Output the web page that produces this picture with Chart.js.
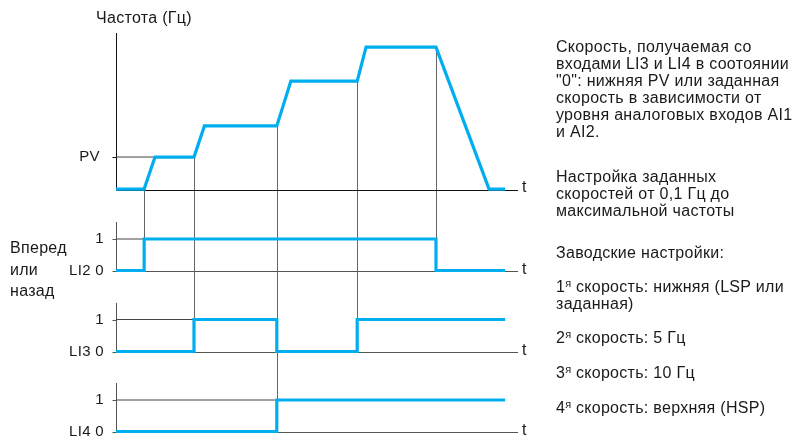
<!DOCTYPE html>
<html>
<head>
<meta charset="utf-8">
<script src="https://cdn.jsdelivr.net/npm/chart.js@4/dist/chart.umd.min.js"></script>
<style>
  html, body { margin: 0; padding: 0; background: #fff; }
  #wrap { position: relative; width: 797px; height: 440px; overflow: hidden;
    font-family: "Liberation Sans", Arial, sans-serif; color: #1a1a1a;
    font-size: 16px; letter-spacing: 0.3px; }
  #chart { position: absolute; left: 0; top: 0; }
  .lbl { position: absolute; white-space: nowrap; line-height: 17px; }
  .t { font-size: 16px; letter-spacing: 0; }
  sup { font-size: 11px; vertical-align: 5px; line-height: 0; letter-spacing: 0; }
</style>
</head>
<body>
<div id="wrap">
  <canvas id="chart" width="797" height="440"></canvas>
  <div class="lbl" style="left:96px; top:9px;">Частота (Гц)</div>
  <div class="lbl" style="left:10px; top:237px; line-height:21.5px;">Вперед<br>или<br>назад</div>
  <div class="lbl t" style="left:522px; top:178px;">t</div>
  <div class="lbl t" style="left:522px; top:260px;">t</div>
  <div class="lbl t" style="left:522px; top:341px;">t</div>
  <div class="lbl t" style="left:522px; top:421px;">t</div>
  <div class="lbl" style="left:556px; top:38px;">Скорость, получаемая со<br>входами LI3 и LI4 в соотоянии<br>"0": нижняя PV или заданная<br>скорость в зависимости от<br>уровня аналоговых входов AI1<br>и AI2.</div>
  <div class="lbl" style="left:556px; top:168px;">Настройка заданных<br>скоростей от 0,1 Гц до<br>максимальной частоты</div>
  <div class="lbl" style="left:556px; top:244px;">Заводские настройки:</div>
  <div class="lbl" style="left:556px; top:278px;">1<sup>я</sup> скорость: нижняя (LSP или<br>заданная)</div>
  <div class="lbl" style="left:556px; top:329px;">2<sup>я</sup> скорость: 5 Гц</div>
  <div class="lbl" style="left:556px; top:364px;">3<sup>я</sup> скорость: 10 Гц</div>
  <div class="lbl" style="left:556px; top:399px;">4<sup>я</sup> скорость: верхняя (HSP)</div>
</div>
<script>
// время (условные единицы, ось t от 0 до 100)
const freqTimes = [0, 7, 9.7, 19.4, 22, 40, 43.5, 60, 62.2, 79.6, 92.8, 96.8];
const freqValues = [0.3, 0.3, 10.5, 10.5, 20.4, 20.4, 34.7, 34.7, 45.5, 45.5, 0.3, 0.3];
const pvValue = 10.5;

// логические входы: моменты переключения и уровни
const li2Times = [0, 7, 79.6, 96.8];
const li2Levels = [0, 1, 0, 0];
const li3Times = [0, 19.4, 40, 60, 96.8];
const li3Levels = [0, 1, 0, 1, 1];
const li4Times = [0, 40, 96.8];
const li4Levels = [0, 1, 1];

// вертикальные линии: момент и панель, до которой идёт линия
const guideTimes = [7, 19.4, 40, 60, 79.6];
const guidePanels = ["yLI2", "yLI3", "yLI4", "yLI3", "yLI2"];

const tMax = 100;
const blue = "#00aeef";
const tickFont = { family: "Liberation Sans", size: 15 };

// где на холсте должны оказаться 0 и верхний уровень каждой панели
const panels = [
  { id: "yF", v1: 50, p0: 190, p1: 33, top: 50, color: "#111" },
  { id: "yLI2", v1: 1, p0: 270.5, p1: 239, top: 1.54, color: "#555" },
  { id: "yLI3", v1: 1, p0: 351.5, p1: 319.5, top: 1.52, color: "#555" },
  { id: "yLI4", v1: 1, p0: 431.5, p1: 400, top: 1.54, color: "#555" },
];

// min/max шкалы так, чтобы 0 попал на пиксель p0, а v1 на p1
function fitRange(area, p) {
  const k = (p.p0 - p.p1) / p.v1;
  return { min: -(area.bottom - p.p0) / k, max: (p.p0 - area.top) / k };
}

function pts(xs, ys) {
  return xs.map((x, i) => ({ x: x, y: ys[i] }));
}
function refLine(level, upto, axis) {
  return {
    data: [{ x: 0, y: level }, { x: upto, y: level }],
    yAxisID: axis, borderColor: "#444", borderWidth: 1, pointRadius: 0, order: 5,
  };
}
function sig(xs, ys, axis, stepped) {
  return {
    data: pts(xs, ys), yAxisID: axis, stepped: stepped,
    borderColor: blue, borderWidth: 3.2, pointRadius: 0,
    borderJoinStyle: "miter", borderCapStyle: "butt", clip: false, order: 0,
  };
}

function logicAxis(name) {
  return {
    type: "linear", position: { x: -3 },
    border: { display: false },
    grid: { display: false },
    afterBuildTicks: (s) => { s.ticks = [{ value: 0 }, { value: 1 }]; },
    ticks: {
      color: "#1a1a1a", font: tickFont,
      callback: (v) => (v === 0 ? name + " 0" : "1"),
    },
  };
}

const axesPlugin = {
  id: "axesPlugin",
  beforeDatasetsDraw(chart) {
    const c = chart.ctx;
    const x = chart.scales.x;
    const x0 = Math.round(x.getPixelForValue(0)) + 0.5;
    c.save();
    c.lineWidth = 1;
    // вертикальные вспомогательные линии
    c.strokeStyle = "#666";
    guideTimes.forEach((t, i) => {
      const idx = freqTimes.indexOf(t);
      const gx = Math.round(x.getPixelForValue(t)) + 0.5;
      c.beginPath();
      c.moveTo(gx, chart.scales.yF.getPixelForValue(freqValues[idx]));
      c.lineTo(gx, chart.scales[guidePanels[i]].getPixelForValue(1));
      c.stroke();
    });
    // оси каждой панели и засечки делений
    panels.forEach((p) => {
      const s = chart.scales[p.id];
      const y0 = Math.round(s.getPixelForValue(0)) + 0.5;
      c.strokeStyle = p.color;
      c.beginPath();
      c.moveTo(x0, s.getPixelForValue(p.top));
      c.lineTo(x0, y0);
      c.lineTo(x.getPixelForValue(tMax), y0);
      s.ticks.forEach((tk) => {
        const ty = Math.round(s.getPixelForValue(tk.value)) + 0.5;
        c.moveTo(x0 - 4, ty);
        c.lineTo(x0, ty);
      });
      c.stroke();
    });
    c.restore();
  },
};

const chart = new Chart(document.getElementById("chart"), {
  type: "line",
  data: {
    datasets: [
      sig(freqTimes, freqValues, "yF", false),
      sig(li2Times, li2Levels, "yLI2", true),
      sig(li3Times, li3Levels, "yLI3", true),
      sig(li4Times, li4Levels, "yLI4", true),
      refLine(pvValue, freqTimes[2], "yF"),
      refLine(1, li2Times[1], "yLI2"),
      refLine(1, li3Times[1], "yLI3"),
      refLine(1, li4Times[1], "yLI4"),
    ],
  },
  options: {
    responsive: false,
    animation: false,
    layout: { padding: { left: 116, right: 797 - 518, top: 20, bottom: 4 } },
    plugins: { legend: { display: false }, tooltip: { enabled: false } },
    scales: {
      x: { type: "linear", min: 0, max: tMax, display: false },
      yF: {
        type: "linear", position: { x: -4 },
        border: { display: false },
        grid: { display: false },
        afterBuildTicks: (s) => { s.ticks = [{ value: pvValue }]; },
        ticks: { color: "#1a1a1a", font: tickFont, callback: () => "PV" },
      },
      yLI2: logicAxis("LI2"),
      yLI3: logicAxis("LI3"),
      yLI4: logicAxis("LI4"),
    },
  },
  plugins: [axesPlugin],
});

// подгоняем диапазоны шкал под фактическую область графика
for (let i = 0; i < 3; i++) {
  panels.forEach((p) => {
    const r = fitRange(chart.chartArea, p);
    chart.options.scales[p.id].min = r.min;
    chart.options.scales[p.id].max = r.max;
  });
  chart.update();
}
</script>
</body>
</html>
